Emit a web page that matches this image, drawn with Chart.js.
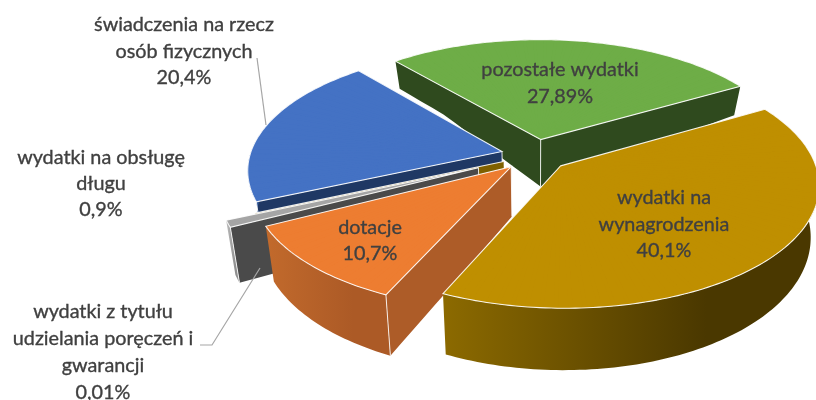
<!DOCTYPE html>
<html lang="pl"><head><meta charset="utf-8">
<style>html,body{margin:0;padding:0;background:#fff}canvas{display:block}</style>
<script src="https://cdn.jsdelivr.net/npm/chart.js@4"></script></head>
<body><canvas id="c" width="816" height="400"></canvas>
<script>
const categories = ["pozostałe wydatki","wydatki na wynagrodzenia","dotacje","wydatki na obsługę długu","wydatki z tytułu udzielania poręczeń i gwarancji","świadczenia na rzecz osób fizycznych"];
const values = [27.89,40.1,10.7,0.9,0.01,20.4];
const explode = [27,27,27,49,27,27];
const topColors = ["#6ead47","#bf8f00","#ed7d31","#a5a5a5","#7f6000","#4472c4"];
const rimLeft = ["#2f4a1e","#8c6a00","#c26a2c","#bdbdbd","#7f6000","#3a62a8"];
const rimRight = ["#3d5c27","#4a3800","#ac5a26","#8f8f8f","#7f6000","#335a9c"];
const radialColors = ["#2f4a1e","#4a3800","#ad5c28","#4a4a4a","#7f6000","#1f3864"];
const drawOrder = [0,5,4,3,2,1];
const labelLines = [
  ["pozostałe wydatki","27,89%"],
  ["wydatki na","wynagrodzenia","40,1%"],
  ["dotacje","10,7%"],
  ["wydatki na obsługę","długu","0,9%"],
  ["wydatki z tytułu","udzielania poręczeń i","gwarancji","0,01%"],
  ["świadczenia na rzecz","osób fizycznych","20,4%"]
];
const labelCentres = [[560,70],[664,198],[370,228],[101,158],[103,312],[184,25]];
const lineGaps = [27,26.5,26,26,27,26.5];
const leaderLines = [[[257,58],[266,125]],[[200,345],[212,345],[260,268]]];

/* projection of the pie plane: centre, radius, tilt, perspective */
const cam = {cx:535, cy:155, R:252, k:0.47, q:0.144, converge:0.03};
const depthY = [-1,-0.63,-0.13,1.1];
const depthPx = [27,29,47,62];
function depthAt(Y){
  if(Y<=depthY[0]) return depthPx[0];
  for(let i=1;i<depthY.length;i++) if(Y<=depthY[i]){
    const t=(Y-depthY[i-1])/(depthY[i]-depthY[i-1]);
    return depthPx[i-1]+t*(depthPx[i]-depthPx[i-1]);
  }
  return depthPx[depthPx.length-1];
}
function project(X,Y,d){
  const w=1-cam.q*Y;
  let u=cam.R*X/w, v=cam.R*cam.k*Y/w;
  u*=1-d*cam.converge;
  v+=d*depthAt(Y);
  return [cam.cx+u, cam.cy+v];
}
const pie3d = {
  id:'pie3d',
  beforeDatasetDraw(chart,args){
    const ctx=chart.ctx, meta=args.meta;
    ctx.save();
    for(const i of drawOrder) drawSlice(ctx,meta.data[i],i,chart.height/2);
    ctx.restore();
    return false;
  },
  afterDraw(chart){
    const ctx=chart.ctx;
    ctx.save();
    ctx.strokeStyle="#a6a6a6"; ctx.lineWidth=1.2;
    for(const l of leaderLines){
      ctx.beginPath(); l.forEach((p,j)=>j?ctx.lineTo(p[0],p[1]):ctx.moveTo(p[0],p[1])); ctx.stroke();
    }
    ctx.fillStyle="#404040"; ctx.strokeStyle="#404040"; ctx.lineWidth=0.35;
    ctx.font="19.8px Lato"; ctx.textAlign="center"; ctx.textBaseline="middle";
    labelLines.forEach((lines,i)=>{
      lines.forEach((t,j)=>{
        const x=labelCentres[i][0], y=labelCentres[i][1]+j*lineGaps[i];
        ctx.fillText(t,x,y); ctx.strokeText(t,x,y);
      });
    });
    ctx.restore();
  }
};
function drawSlice(ctx,el,i,unit){
  const a0=el.startAngle,a1=el.endAngle,r=el.outerRadius,x0=el.x,y0=el.y,opts=el.options;
  const mid=(a0+a1)/2, e=opts.offset/unit;
  const ax=e*Math.cos(mid), ay=e*Math.sin(mid);
  const rim=(a,d)=>project(ax+Math.cos(a),ay+Math.sin(a),d);
  const rad=(a,t,d)=>project(ax+t*Math.cos(a),ay+t*Math.sin(a),d);
  const poly=(pts,fill)=>{ctx.beginPath();pts.forEach((p,j)=>j?ctx.lineTo(p[0],p[1]):ctx.moveTo(p[0],p[1]));ctx.closePath();ctx.fillStyle=fill;ctx.fill();};
  const radialWall=a=>{
    const top=[],bot=[];
    for(let s=0;s<=12;s++){top.push(rad(a,s/12,0));bot.unshift(rad(a,s/12,1));}
    poly(top.concat(bot),radialColors[i]);
  };
  const vline=p=>{
    ctx.beginPath();ctx.moveTo(...p(0));ctx.lineTo(...p(1));ctx.strokeStyle="rgba(255,255,255,.85)";ctx.lineWidth=1;ctx.stroke();
  };
  const startFront=-Math.cos(a0)>0, endFront=Math.cos(a1)>0;
  if(startFront) radialWall(a0);
  if(endFront) radialWall(a1);
  const top=[],bot=[];
  const N=Math.max(2,Math.ceil((a1-a0)/0.02));
  for(let s=0;s<=N;s++){
    const a=a0+(a1-a0)*s/N;
    if(Math.sin(a)>=-0.01){top.push(rim(a,0));bot.unshift(rim(a,1));}
  }
  if(top.length>1){
    const xs=top.concat(bot).map(p=>p[0]);
    const g=ctx.createLinearGradient(Math.min(...xs),0,Math.max(...xs),0);
    g.addColorStop(0,rimLeft[i]);g.addColorStop(0.7,rimRight[i]);g.addColorStop(1,rimRight[i]);
    poly(top.concat(bot),g);
  }
  if(values[i]>0.1){
    if(startFront||endFront) vline(d=>rad(a0,0,d));
    if(startFront&&Math.sin(a0)>=0) vline(d=>rim(a0,d));
    if(endFront&&Math.sin(a1)>=0) vline(d=>rim(a1,d));
  }
  const outline=()=>{
    ctx.beginPath();ctx.moveTo(...project(ax,ay,0));
    for(let s=0;s<=N;s++) ctx.lineTo(...rim(a0+(a1-a0)*s/N,0));
    ctx.closePath();
  };
  // top face: the library's own arc, piecewise through the projection
  const saved={s:a0,e:a1,c:el.circumference,o:opts};
  el.options=Object.assign({},opts,{offset:0,spacing:0,borderWidth:2.4,borderColor:topColors[i]});
  const M=Math.max(1,Math.ceil((a1-a0)/0.05)), step=(a1-a0)/M;
  ctx.save();
  outline();ctx.clip();
  for(let s=0;s<M;s++){
    const b0=a0+s*step,b1=b0+step;
    const A=project(ax,ay,0),S=rim(b0,0),E=rim(b1,0);
    const v1=[r*Math.cos(b0),r*Math.sin(b0)],v2=[r*Math.cos(b1),r*Math.sin(b1)];
    const det=v1[0]*v2[1]-v1[1]*v2[0];
    const w1=[S[0]-A[0],S[1]-A[1]],w2=[E[0]-A[0],E[1]-A[1]];
    const ma=(w1[0]*v2[1]-w2[0]*v1[1])/det, mc=(-w1[0]*v2[0]+w2[0]*v1[0])/det;
    const mb=(w1[1]*v2[1]-w2[1]*v1[1])/det, md=(-w1[1]*v2[0]+w2[1]*v1[0])/det;
    ctx.save();
    ctx.transform(ma,mb,mc,md,A[0]-ma*x0-mc*y0,A[1]-mb*x0-md*y0);
    el.startAngle=b0; el.endAngle=b1; el.circumference=b1-b0;
    el.draw(ctx);
    ctx.restore();
  }
  ctx.restore();
  el.startAngle=saved.s;el.endAngle=saved.e;el.circumference=saved.c;el.options=saved.o;
  // white edge of the top face
  outline();ctx.strokeStyle="rgba(255,255,255,.9)";ctx.lineWidth=1.1;ctx.stroke();
}
new Chart(document.getElementById('c'),{
  type:'pie',
  data:{labels:categories,datasets:[{data:values,backgroundColor:topColors,borderWidth:0,offset:explode}]},
  options:{responsive:false,animation:false,rotation:-40.4,
    plugins:{legend:{display:false},tooltip:{enabled:false}},events:[]},
  plugins:[pie3d]
});
</script></body></html>
